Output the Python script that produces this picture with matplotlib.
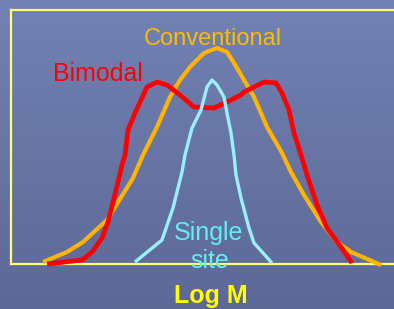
import numpy as np
import matplotlib
matplotlib.use("Agg")
import matplotlib.pyplot as plt

plt.rcParams['font.family'] = ['Liberation Sans', 'DejaVu Sans']

# Curves (x: position along Log M axis, y: height above baseline)
conv_x = [32, 56, 72, 96, 122, 132, 146, 159, 169, 179, 189, 193, 206, 216, 223, 233, 243, 256, 271, 280, 293, 310, 326, 340, 370]
conv_y = [2, 12, 22, 44, 86, 109, 137, 167, 184, 197, 207, 211, 216, 212, 201, 184, 167, 137, 111, 92, 69, 42, 22, 12, -1]

bimo_x = [36, 71, 81, 91, 97, 102, 107, 111, 114, 117, 124, 136, 146, 156, 169, 183, 203, 216, 230, 233, 243, 253, 265, 271, 278, 283, 290, 296, 306, 316, 330, 341]
bimo_y = [0, 4, 12, 26, 42, 62, 82, 99, 109, 134, 151, 177, 182, 179, 169, 157, 156, 162, 169, 172, 177, 182, 181, 171, 154, 131, 109, 89, 59, 36, 17, 1]

single_x = [124, 151, 162, 171, 174, 181, 190, 196, 201, 206, 213, 216, 220, 223, 225, 230, 238, 243, 261]
single_y = [2, 24, 56, 92, 109, 136, 154, 177, 184, 179, 167, 151, 131, 109, 89, 66, 36, 21, 1]

labels = ["Conventional", "Bimodal", "Single\nsite"]
xlabel = "Log M"

W, H = 394, 309
fig = plt.figure(figsize=(W / 100, H / 100), dpi=100)

# gradient background
bg = fig.add_axes([0, 0, 1, 1], zorder=-10)
grad = np.linspace(0, 1, 256)[:, None]
top = np.array([114, 130, 180]) / 255
bot = np.array([93, 104, 150]) / 255
img = top[None, None, :] * (1 - grad[:, :, None]) + bot[None, None, :] * grad[:, :, None]
bg.imshow(img, aspect='auto', extent=[0, 1, 0, 1])
bg.axis('off')

# main axes: frame from px x=11, y=10 to y=264, extending past right edge
left = 11 / W
bottom = (H - 264) / H
height = (264 - 10) / H
width = (W + 10 - 11) / W
ax = fig.add_axes([left, bottom, width, height])
ax.set_facecolor('none')
ax.set_xlim(0, W + 10 - 11)
ax.set_ylim(0, 254)
frame_col = '#ffff70'
for s in ['left', 'top', 'bottom', 'right']:
    ax.spines[s].set_color(frame_col)
    ax.spines[s].set_linewidth(1.6)
ax.set_xticks([])
ax.set_yticks([])

orange = '#ffb400'
red = '#ff0000'
cyan = '#99f0ff'
ax.plot(conv_x, conv_y, color=orange, lw=3.0, solid_capstyle='butt', clip_on=False, zorder=3)
ax.plot(bimo_x, bimo_y, color=red, lw=3.4, solid_capstyle='butt', clip_on=False, zorder=4)
ax.plot(single_x, single_y, color=cyan, lw=2.4, solid_capstyle='butt', clip_on=False, zorder=5)

ax.text(201.5, 219, labels[0], color='#ffbb00', fontsize=17, ha='center', va='baseline', zorder=6)
ax.text(87, 183, labels[1], color=red, fontsize=18, ha='center', va='baseline', zorder=6)
ax.text(197.5, 24, "Single", color='#5ff0f0', fontsize=18, ha='center', va='baseline', zorder=6)
ax.text(199, -4, "site", color='#5ff0f0', fontsize=18, ha='center', va='baseline', zorder=6, clip_on=False)

fig.text(211 / W, (H - 303) / H, xlabel, color='#ffff00', fontsize=18, fontweight='bold',
         ha='center', va='baseline')

fig.savefig('out.png', dpi=100)
